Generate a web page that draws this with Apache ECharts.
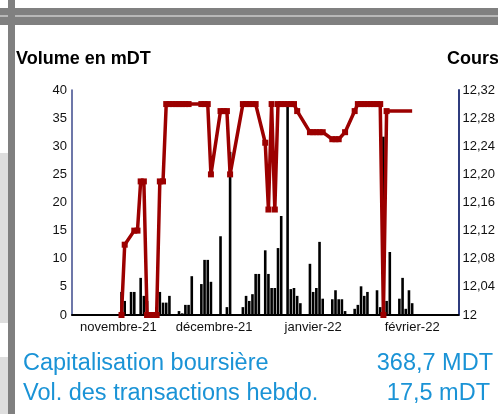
<!DOCTYPE html>
<html>
<head>
<meta charset="utf-8">
<script src="https://cdn.jsdelivr.net/npm/echarts/dist/echarts.min.js"></script>
<style>
html, body { margin: 0; padding: 0; background: #fff; }
#main { width: 498px; height: 414px; }
</style>
</head>
<body>
<div id="main"></div>
<script>
var myChart = echarts.init(document.getElementById('main'));

// one slot per calendar day (date axis, like the original sheet)
var firstDay = Date.UTC(2021, 9, 18);
var lastDay = Date.UTC(2022, 1, 15);
var months = ['janvier', 'février', 'mars', 'avril', 'mai', 'juin', 'juillet',
    'août', 'septembre', 'octobre', 'novembre', 'décembre'];

var days = [];
for (var t = firstDay; t <= lastDay; t += 86400000) {
    days.push(new Date(t).toISOString().slice(0, 10));
}

// volume en mDT
var volDates = [
    '2021-11-02', '2021-11-03', '2021-11-05', '2021-11-06', '2021-11-08', '2021-11-09', '2021-11-10',
    '2021-11-13', '2021-11-14', '2021-11-15', '2021-11-16', '2021-11-17', '2021-11-20', '2021-11-21',
    '2021-11-22', '2021-11-23', '2021-11-24', '2021-11-27', '2021-11-28', '2021-11-29', '2021-11-30',
    '2021-12-03', '2021-12-05', '2021-12-06', '2021-12-10', '2021-12-11', '2021-12-12', '2021-12-13',
    '2021-12-14', '2021-12-15', '2021-12-17', '2021-12-18', '2021-12-19', '2021-12-20', '2021-12-21',
    '2021-12-22', '2021-12-24', '2021-12-25', '2021-12-26', '2021-12-27', '2021-12-28', '2021-12-31',
    '2022-01-01', '2022-01-02', '2022-01-03', '2022-01-04', '2022-01-07', '2022-01-08', '2022-01-09',
    '2022-01-10', '2022-01-11', '2022-01-14', '2022-01-15', '2022-01-16', '2022-01-17', '2022-01-18',
    '2022-01-21', '2022-01-22', '2022-01-23', '2022-01-24', '2022-01-25', '2022-01-28', '2022-01-29',
    '2022-01-30', '2022-01-31', '2022-02-01'
];
var volValues = [
    4.1, 2.5, 4.1, 4.1, 6.6, 3.4, 2.5,
    1.4, 4.1, 2.2, 2.2, 3.4, 0.7, 0.3,
    1.8, 1.8, 6.9, 5.5, 9.8, 9.8, 5.9,
    14.0, 1.4, 29.0, 1.4, 3.4, 2.5, 3.7,
    7.3, 7.3, 11.5, 7.3, 4.8, 4.8, 11.9,
    17.6, 37.5, 4.6, 4.8, 3.4, 2.1, 9.1,
    4.1, 4.8, 13.0, 2.9, 2.8, 4.4, 2.8,
    2.8, 0.7, 1.1, 1.8, 5.1, 3.4, 4.1,
    4.4, 1.4, 31.7, 2.5, 11.2, 2.9, 6.6,
    1.1, 4.4, 2.1
];

// cours en DT (12 = pas de cours, posé sur l'axe)
var priceDates = [
    '2021-11-02', '2021-11-03', '2021-11-06', '2021-11-07', '2021-11-08', '2021-11-09', '2021-11-10',
    '2021-11-11', '2021-11-12', '2021-11-13', '2021-11-14', '2021-11-15', '2021-11-16', '2021-11-17',
    '2021-11-18', '2021-11-19', '2021-11-20', '2021-11-21', '2021-11-22', '2021-11-23', '2021-11-27',
    '2021-11-28', '2021-11-29', '2021-11-30', '2021-12-03', '2021-12-04', '2021-12-05', '2021-12-06',
    '2021-12-10', '2021-12-11', '2021-12-12', '2021-12-13', '2021-12-14', '2021-12-17', '2021-12-18',
    '2021-12-19', '2021-12-20', '2021-12-21', '2021-12-22', '2021-12-23', '2021-12-24', '2021-12-25',
    '2021-12-26', '2021-12-27', '2021-12-31', '2022-01-01', '2022-01-02', '2022-01-03', '2022-01-04',
    '2022-01-07', '2022-01-08', '2022-01-09', '2022-01-11', '2022-01-14', '2022-01-15', '2022-01-16',
    '2022-01-17', '2022-01-18', '2022-01-19', '2022-01-20', '2022-01-21', '2022-01-22', '2022-01-23',
    '2022-01-24', '2022-01-25', '2022-01-26', '2022-01-27', '2022-01-28', '2022-01-29', '2022-01-30',
    '2022-01-31', '2022-02-01'
];
var priceValues = [
    12, 12.10, 12.12, 12.12, 12.19, 12.19, 12,
    12, 12, 12, 12.19, 12.19, 12.30, 12.30,
    12.30, 12.30, 12.30, 12.30, 12.30, 12.30, 12.30,
    12.30, 12.30, 12.20, 12.29, 12.29, 12.29, 12.20,
    12.30, 12.30, 12.30, 12.30, 12.30, 12.245, 12.15,
    12.30, 12.15, 12.30, 12.30, 12.30, 12.30, 12.30,
    12.30, 12.29, 12.26, 12.26, 12.26, 12.26, 12.26,
    12.25, 12.25, 12.25, 12.26, 12.29, 12.30, 12.30,
    12.30, 12.30, 12.30, 12.30, 12.30, 12.30, 12,
    12.29, 12.29, 12.29, 12.29, 12.29, 12.29, 12.29,
    12.29, 12.29
];
// the last run is drawn as a plain line in the original
var plainFrom = '2022-01-25';

var capLabel = 'Capitalisation boursière';
var capValue = '368,7 MDT';
var volLabel = 'Vol. des transactions hebdo.';
var volValue = '17,5 mDT';

function onDays(dates, values) {
    var m = {};
    dates.forEach(function (d, i) { m[d] = values[i]; });
    return days.map(function (d) { return d in m ? m[d] : null; });
}

var priceData = onDays(priceDates, priceValues).map(function (v, i) {
    if (v !== null && days[i] >= plainFrom) {
        return { value: v, symbol: 'none' };
    }
    return v;
});

var font = 'Liberation Sans, Arial, sans-serif';
var blue = '#1a93d6';
var red = '#9c0000';

option = {
    animation: false,
    backgroundColor: '#fff',
    grid: { left: 72, top: 90, width: 388, height: 225 },
    xAxis: {
        type: 'category',
        data: days,
        boundaryGap: true,
        axisLine: { lineStyle: { color: '#000', width: 2 } },
        axisTick: { show: false },
        axisLabel: {
            interval: function (i, v) { return v.slice(8) === '01'; },
            formatter: function (v) {
                return months[parseInt(v.slice(5, 7), 10) - 1] + '-' + v.slice(2, 4);
            },
            color: '#111', fontSize: 13, fontFamily: font, margin: 6
        }
    },
    yAxis: [{
        type: 'value', min: 0, max: 40, interval: 5,
        axisLine: { show: true, lineStyle: { color: '#3d4a8c', width: 1.5 } },
        axisTick: { show: false },
        splitLine: { show: false },
        axisLabel: { color: '#111', fontSize: 13, fontFamily: font, margin: 5 }
    }, {
        type: 'value', min: 12, max: 12.32, interval: 0.04, position: 'right',
        axisLine: { show: true, lineStyle: { color: '#2f3c7e', width: 2 } },
        axisTick: { show: false },
        splitLine: { show: false },
        axisLabel: {
            color: '#111', fontSize: 13, fontFamily: font, margin: 4,
            formatter: function (v) {
                return Math.abs(v - 12) < 1e-6 ? '12' : v.toFixed(2).replace('.', ',');
            }
        }
    }],
    graphic: [
        { type: 'rect', shape: { x: 0, y: 8, width: 498, height: 17 }, style: { fill: '#808080' } },
        { type: 'rect', shape: { x: 0, y: 15, width: 498, height: 2 }, style: { fill: '#b8b8b8' } },
        { type: 'rect', shape: { x: 8, y: 0, width: 7, height: 414 }, style: { fill: '#808080' } },
        { type: 'rect', shape: { x: 0, y: 153, width: 8, height: 170 }, style: { fill: '#dedede' } },
        { type: 'rect', shape: { x: 0, y: 357, width: 8, height: 57 }, style: { fill: '#dedede' } },
        { type: 'text', left: 16, top: 50, style: { text: 'Volume en mDT', font: 'bold 18px ' + font, fill: '#000' } },
        { type: 'text', left: 447, top: 50, style: { text: 'Cours en DT', font: 'bold 18px ' + font, fill: '#000' } },
        { type: 'text', left: 23, top: 352, style: { text: capLabel, font: '23.5px ' + font, fill: blue } },
        { type: 'text', right: 5, top: 352, style: { text: capValue, font: '23.5px ' + font, fill: blue } },
        { type: 'text', left: 23, top: 382, style: { text: volLabel, font: '23.5px ' + font, fill: blue } },
        { type: 'text', right: 8, top: 382, style: { text: volValue, font: '23.5px ' + font, fill: blue } }
    ],
    series: [{
        type: 'bar',
        data: onDays(volDates, volValues),
        barWidth: 2.6,
        itemStyle: { color: '#000' },
        silent: true
    }, {
        type: 'line',
        yAxisIndex: 1,
        data: priceData,
        connectNulls: true,
        symbol: 'rect',
        symbolSize: 6,
        showAllSymbol: true,
        itemStyle: { color: red },
        lineStyle: { color: red, width: 3.5 },
        silent: true
    }]
};

if (option && typeof option === 'object') {
    myChart.setOption(option, true);
}
</script>
</body>
</html>
